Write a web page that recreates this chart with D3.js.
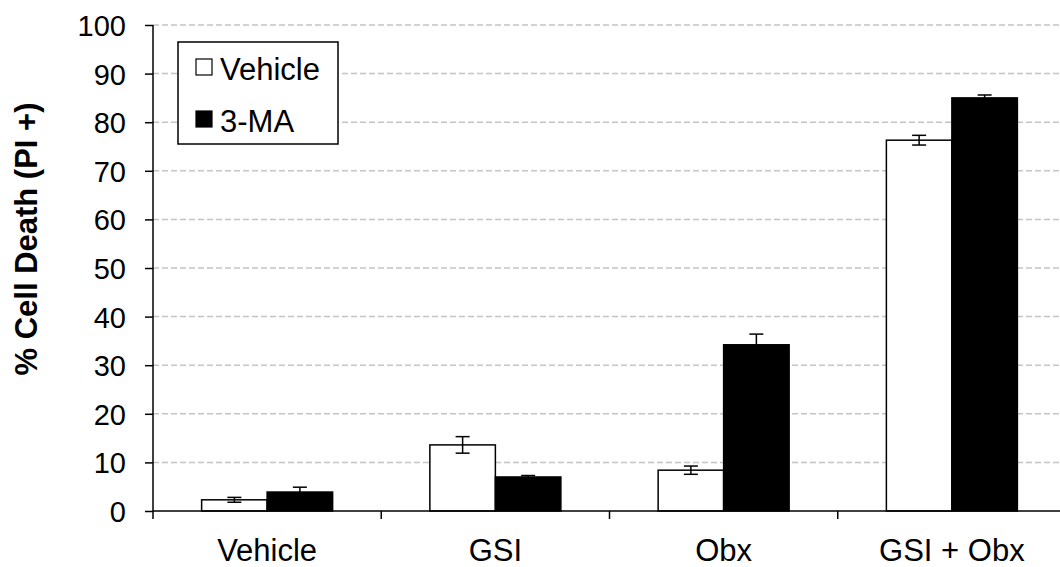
<!DOCTYPE html>
<html>
<head>
<meta charset="utf-8">
<script src="https://cdn.jsdelivr.net/npm/d3@7"></script>
<style>
  html, body { margin: 0; padding: 0; background: #fff; }
  svg { display: block; font-family: "Liberation Sans", Arial, sans-serif; }
</style>
</head>
<body>
<svg id="chart" width="1060" height="567"></svg>
<script>
// Treatment groups along the x axis
const categories = ["Vehicle", "GSI", "Obx", "GSI + Obx"];
// Series (legend entries)
const seriesNames = ["Vehicle", "3-MA"];
// Mean % cell death per group
const vehicleValues = [2.3, 13.6, 8.4, 76.3];
const maValues = [3.9, 7.0, 34.2, 85.0];
// Error (± SEM) per group
const vehicleErrors = [0.5, 1.7, 0.85, 1.0];
const maErrors = [1.0, 0.3, 2.2, 0.6];
// Y axis ticks
const yTicks = [0, 10, 20, 30, 40, 50, 60, 70, 80, 90, 100];

const seriesData = [
  { name: seriesNames[0], values: vehicleValues, errors: vehicleErrors, fill: "#ffffff" },
  { name: seriesNames[1], values: maValues, errors: maErrors, fill: "#000000" }
];

const svg = d3.select("#chart");
const plotLeft = 153, plotRight = 1066, plotTop = 25, plotBottom = 511;

const x0 = d3.scaleBand().domain(categories).range([plotLeft, plotRight]).padding(0);
const bw = x0.bandwidth();
const groupW = 131;
const x1 = d3.scaleBand().domain(seriesNames)
  .range([(bw - groupW) / 2, (bw + groupW) / 2]).padding(0);
const y = d3.scaleLinear().domain([0, 100]).range([plotBottom, plotTop]);

// Dashed horizontal gridlines
svg.append("g")
  .selectAll("line")
  .data(yTicks.filter(d => d > 0))
  .join("line")
  .attr("x1", plotLeft).attr("x2", plotRight)
  .attr("y1", d => y(d)).attr("y2", d => y(d))
  .attr("stroke", "#c4c4c4")
  .attr("stroke-width", 1.5)
  .attr("stroke-dasharray", "6,3");

// Bars
const groups = svg.append("g")
  .selectAll("g")
  .data(categories)
  .join("g")
  .attr("transform", d => `translate(${x0(d)},0)`);

const cells = (c, i) => seriesData.map(s => ({ s, v: s.values[i], e: s.errors[i] }));

groups.selectAll("rect")
  .data(cells)
  .join("rect")
  .attr("x", d => x1(d.s.name))
  .attr("y", d => y(d.v))
  .attr("width", x1.bandwidth())
  .attr("height", d => y(0) - y(d.v))
  .attr("fill", d => d.s.fill)
  .attr("stroke", "#000")
  .attr("stroke-width", 1.5);

// Error bars
const capW = 14;
const cx = d => x1(d.s.name) + x1.bandwidth() / 2;
const eb = groups.selectAll("g.err")
  .data(cells)
  .join("g")
  .attr("class", "err")
  .attr("stroke", "#000")
  .attr("stroke-width", 1.5);
eb.append("line")
  .attr("x1", cx).attr("x2", cx)
  .attr("y1", d => y(d.v - d.e)).attr("y2", d => y(d.v + d.e));
eb.append("line")
  .attr("x1", d => cx(d) - capW / 2).attr("x2", d => cx(d) + capW / 2)
  .attr("y1", d => y(d.v + d.e)).attr("y2", d => y(d.v + d.e));
eb.append("line")
  .attr("x1", d => cx(d) - capW / 2).attr("x2", d => cx(d) + capW / 2)
  .attr("y1", d => y(d.v - d.e)).attr("y2", d => y(d.v - d.e));

// Y axis
const yAxis = svg.append("g")
  .attr("transform", `translate(${plotLeft},0)`)
  .call(d3.axisLeft(y).tickValues(yTicks).tickSize(8).tickPadding(19).tickSizeOuter(0));
yAxis.select(".domain").remove();
yAxis.append("line")
  .attr("x1", 0).attr("x2", 0).attr("y1", plotTop).attr("y2", plotBottom + 8)
  .attr("stroke", "#000").attr("stroke-width", 1.5);
yAxis.selectAll(".tick line").attr("stroke", "#000").attr("stroke-width", 1.5);
yAxis.selectAll(".tick text")
  .attr("fill", "#000")
  .style("font-size", "29px")
  .style("font-family", "'Liberation Sans', Arial, sans-serif")
  .attr("dy", "0.36em");

// X axis baseline with ticks at group boundaries
const xAxis = svg.append("g");
xAxis.append("line")
  .attr("x1", plotLeft).attr("x2", plotRight).attr("y1", plotBottom).attr("y2", plotBottom)
  .attr("stroke", "#000").attr("stroke-width", 1.5);
xAxis.selectAll("line.bt")
  .data(categories.slice(1))
  .join("line")
  .attr("class", "bt")
  .attr("x1", d => x0(d)).attr("x2", d => x0(d))
  .attr("y1", plotBottom).attr("y2", plotBottom + 8)
  .attr("stroke", "#000").attr("stroke-width", 1.5);
xAxis.selectAll("text")
  .data(categories)
  .join("text")
  .attr("x", d => x0(d) + bw / 2)
  .attr("y", 561)
  .attr("text-anchor", "middle")
  .style("font-size", "31px")
  .text(d => d);

// Y axis title
svg.append("text")
  .attr("transform", "translate(37,239) rotate(-90)")
  .attr("text-anchor", "middle")
  .style("font-size", "31px")
  .style("font-weight", "bold")
  .text("% Cell Death (PI +)");

// Legend
const legend = svg.append("g");
legend.append("rect")
  .attr("x", 178).attr("y", 42).attr("width", 160).attr("height", 102)
  .attr("fill", "#fff").attr("stroke", "#000").attr("stroke-width", 1.5);
const items = legend.selectAll("g.item")
  .data(seriesData)
  .join("g")
  .attr("class", "item")
  .attr("transform", (d, i) => `translate(196,${59 + i * 52})`);
items.append("rect")
  .attr("width", 16).attr("height", 16)
  .attr("fill", d => d.fill).attr("stroke", "#000").attr("stroke-width", 1.2);
items.append("text")
  .attr("x", 24).attr("y", 21)
  .style("font-size", "31px")
  .text(d => d.name);
</script>
</body>
</html>
